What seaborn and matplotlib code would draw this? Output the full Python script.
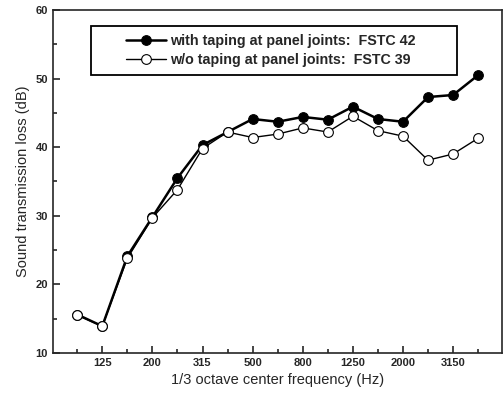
import numpy as np
import pandas as pd
import seaborn as sns
from matplotlib import pyplot as plt
from matplotlib.patches import Rectangle
from matplotlib.ticker import MultipleLocator, FixedLocator

freqs = ["100", "125", "160", "200", "250", "315", "400", "500", "630", "800",
         "1000", "1250", "1600", "2000", "2500", "3150", "4000"]
with_tape = [15.6, 13.9, 24.1, 29.8, 35.5, 40.3, 42.2, 44.1, 43.7, 44.4,
             44.0, 45.9, 44.1, 43.7, 47.3, 47.6, 50.5]
without_tape = [15.5, 13.9, 23.8, 29.7, 33.8, 39.8, 42.2, 41.4, 41.9, 42.8,
                42.2, 44.5, 42.4, 41.6, 38.1, 39.0, 41.3]
label_with = "with taping at panel joints:  FSTC 42"
label_without = "w/o taping at panel joints:  FSTC 39"

if __name__ == '__main__':
    sns.set_style("ticks")
    plt.rcParams['font.family'] = ['Liberation Sans', 'DejaVu Sans']

    idx = np.arange(len(freqs))
    data = pd.DataFrame({"idx": idx, "with": with_tape, "without": without_tape})

    fig = plt.figure(figsize=(5.04, 3.97), dpi=100)
    ax = fig.add_axes([0.105, 0.111, 0.891, 0.864])

    sns.lineplot(data=data, x="idx", y="with", ax=ax, color="black", linewidth=1.8,
                 marker="o", markersize=7, markerfacecolor="black",
                 markeredgecolor="black", label=label_with)
    sns.lineplot(data=data, x="idx", y="without", ax=ax, color="black", linewidth=1.0,
                 marker="o", markersize=7, markerfacecolor="white",
                 markeredgecolor="black", markeredgewidth=0.8, label=label_without)

    ax.set_xlim(-0.97, 16.95)
    ax.set_ylim(10, 60)
    major = idx[1::2]
    ax.set_xticks(major)
    ax.set_xticklabels([freqs[i] for i in major], fontsize=8, fontweight="bold")
    ax.xaxis.set_minor_locator(FixedLocator(idx[0::2]))
    ax.yaxis.set_major_locator(MultipleLocator(10))
    ax.yaxis.set_minor_locator(MultipleLocator(5))
    for t in ax.get_yticklabels():
        t.set_fontsize(8)
        t.set_fontweight("bold")
    ax.tick_params(which="both", direction="in", width=1.2)
    ax.tick_params(which="major", length=5)
    ax.tick_params(which="minor", length=3)
    for s in ax.spines.values():
        s.set_visible(True)
        s.set_linewidth(1.2)

    ax.set_xlabel("1/3 octave center frequency (Hz)", fontsize=10.5)
    ax.set_ylabel("Sound transmission loss (dB)", fontsize=10.5)

    # legend box drawn separately so the padding matches the original
    ax.add_patch(Rectangle((0.085, 0.81), 0.815, 0.143, transform=ax.transAxes,
                           fill=False, edgecolor="black", linewidth=1.3, zorder=5))
    leg = ax.legend(loc="center", bbox_to_anchor=(0.485, 0.882), frameon=False,
                    prop={"weight": "bold", "size": 10.3}, handlelength=2.8,
                    handletextpad=0.3, labelspacing=0.3)

    fig.savefig("out.png", dpi=100)
